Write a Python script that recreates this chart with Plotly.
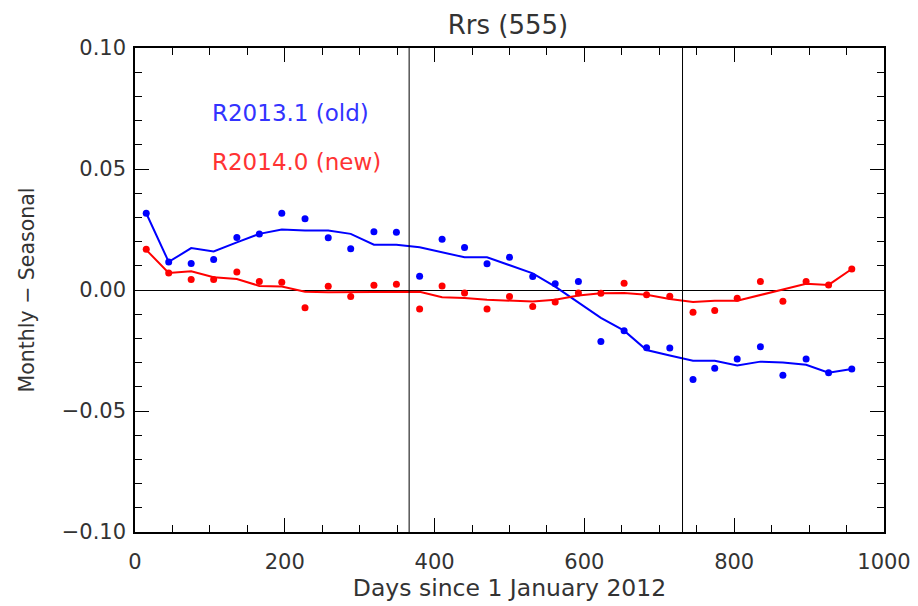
import plotly.graph_objects as go

# ---- data ----
days = [15, 45, 75, 105, 136, 166, 196, 227, 258, 288, 319, 349, 380, 410, 440, 470,
        500, 531, 561, 592, 622, 653, 683, 714, 745, 774, 804, 835, 865, 896, 926, 957]

old_points = [0.0317, 0.0116, 0.0110, 0.0126, 0.0217, 0.0231, 0.0317, 0.0294, 0.0216, 0.0170,
              0.0241, 0.0239, 0.0057, 0.0210, 0.0176, 0.0108, 0.0135, 0.0056, 0.0026, 0.0035,
              -0.0213, -0.0168, -0.0239, -0.0240, -0.0370, -0.0323, -0.0285, -0.0234, -0.0352,
              -0.0285, -0.0342, -0.0326]

old_smooth = [0.0317, 0.0116, 0.0173, 0.0159, 0.0197, 0.0232, 0.0250, 0.0246, 0.0246, 0.0232,
              0.0187, 0.0187, 0.0177, 0.0156, 0.0135, 0.0135, 0.0101, 0.0069, 0.0014, -0.0050,
              -0.0115, -0.0168, -0.0248, -0.0271, -0.0292, -0.0292, -0.0312, -0.0296, -0.0300,
              -0.0309, -0.0342, -0.0326]

new_points = [0.0168, 0.0070, 0.0043, 0.0043, 0.0074, 0.0035, 0.0032, -0.0073, 0.0016, -0.0027,
              0.0020, 0.0024, -0.0078, 0.0017, -0.0012, -0.0078, -0.0027, -0.0068, -0.0050, -0.0012,
              -0.0013, 0.0028, -0.0020, -0.0026, -0.0092, -0.0085, -0.0034, 0.0035, -0.0046,
              0.0035, 0.0021, 0.0087]

new_smooth = [0.0166, 0.0070, 0.0077, 0.0053, 0.0045, 0.0017, 0.0014, -0.0007, -0.0009, -0.0009,
              -0.0009, -0.0009, -0.0007, -0.0030, -0.0033, -0.0040, -0.0044, -0.0048, -0.0040, -0.0023,
              -0.0013, -0.0012, -0.0020, -0.0037, -0.0050, -0.0044, -0.0044, -0.0019, 0.0002,
              0.0026, 0.0021, 0.0087]

year_boundaries = [366, 731]

x_tickvals = [0, 200, 400, 600, 800, 1000]
x_ticktext = ["0", "200", "400", "600", "800", "1000"]
y_tickvals = [-0.10, -0.05, 0.0, 0.05, 0.10]
y_ticktext = ["\u22120.10", "\u22120.05", "0.00", "0.05", "0.10"]

series_names = ["R2013.1 (old)", "R2014.0 (new)"]
title_text = "Rrs (555)"
x_title = "Days since 1 January 2012"
y_title = "Monthly \u2212 Seasonal"

BLUE = "#0000ff"
RED = "#ff0000"
TXT = "#333333"
FONT = "DejaVu Sans"

fig = go.Figure()

fig.add_trace(go.Scatter(x=days, y=old_smooth, mode="lines",
                         line=dict(color=BLUE, width=2), showlegend=False))
fig.add_trace(go.Scatter(x=days, y=old_points, mode="markers",
                         marker=dict(color=BLUE, size=7), showlegend=False))
fig.add_trace(go.Scatter(x=days, y=new_smooth, mode="lines",
                         line=dict(color=RED, width=2), showlegend=False))
fig.add_trace(go.Scatter(x=days, y=new_points, mode="markers",
                         marker=dict(color=RED, size=7), showlegend=False))

for xb in year_boundaries:
    fig.add_shape(type="line", xref="x", yref="paper", x0=xb, x1=xb, y0=0, y1=1,
                  line=dict(color="black", width=1))

# in-plot legend texts
fig.add_annotation(x=100, y=0.073, xref="x", yref="y", text=series_names[0],
                   showarrow=False, xanchor="left", yanchor="middle",
                   font=dict(family=FONT, size=23, color="#3333ff"))
fig.add_annotation(x=100, y=0.053, xref="x", yref="y", text=series_names[1],
                   showarrow=False, xanchor="left", yanchor="middle",
                   font=dict(family=FONT, size=23, color="#ff3333"))

fig.update_layout(
    width=918, height=606,
    margin=dict(l=127, r=42, t=40, b=82, autoexpand=False),
    paper_bgcolor="white", plot_bgcolor="white",
    font=dict(family=FONT, color=TXT),
    title=dict(text=title_text, x=0.498, xref="paper", xanchor="center",
               y=0.972, yref="container", yanchor="middle",
               font=dict(family=FONT, size=26, color=TXT)),
)

fig.update_xaxes(
    automargin=False,
    range=[0, 1000], tickvals=x_tickvals, ticktext=x_ticktext,
    showgrid=False, zeroline=False,
    showline=True, linecolor="black", linewidth=1.5, mirror="ticks",
    ticks="inside", ticklen=14, tickwidth=1.2, tickcolor="black",
    minor=dict(dtick=50, ticks="inside", ticklen=7, tickwidth=1.2, tickcolor="black"),
    tickfont=dict(family=FONT, size=21, color=TXT),
    ticklabelstandoff=10,
    title=dict(text=x_title, font=dict(family=FONT, size=23.5, color=TXT), standoff=3),
)

fig.update_yaxes(
    automargin=False,
    range=[-0.10, 0.10], tickvals=y_tickvals, ticktext=y_ticktext,
    showgrid=False, zeroline=True, zerolinecolor="black", zerolinewidth=1,
    showline=True, linecolor="black", linewidth=1.5, mirror="ticks",
    ticks="inside", ticklen=14, tickwidth=1.2, tickcolor="black",
    minor=dict(dtick=0.01, ticks="inside", ticklen=7, tickwidth=1.2, tickcolor="black"),
    tickfont=dict(family=FONT, size=21, color=TXT),
    ticklabelstandoff=3,
    title=dict(text=y_title, font=dict(family=FONT, size=20.5, color=TXT), standoff=22),
)

fig.write_html("out.html")
